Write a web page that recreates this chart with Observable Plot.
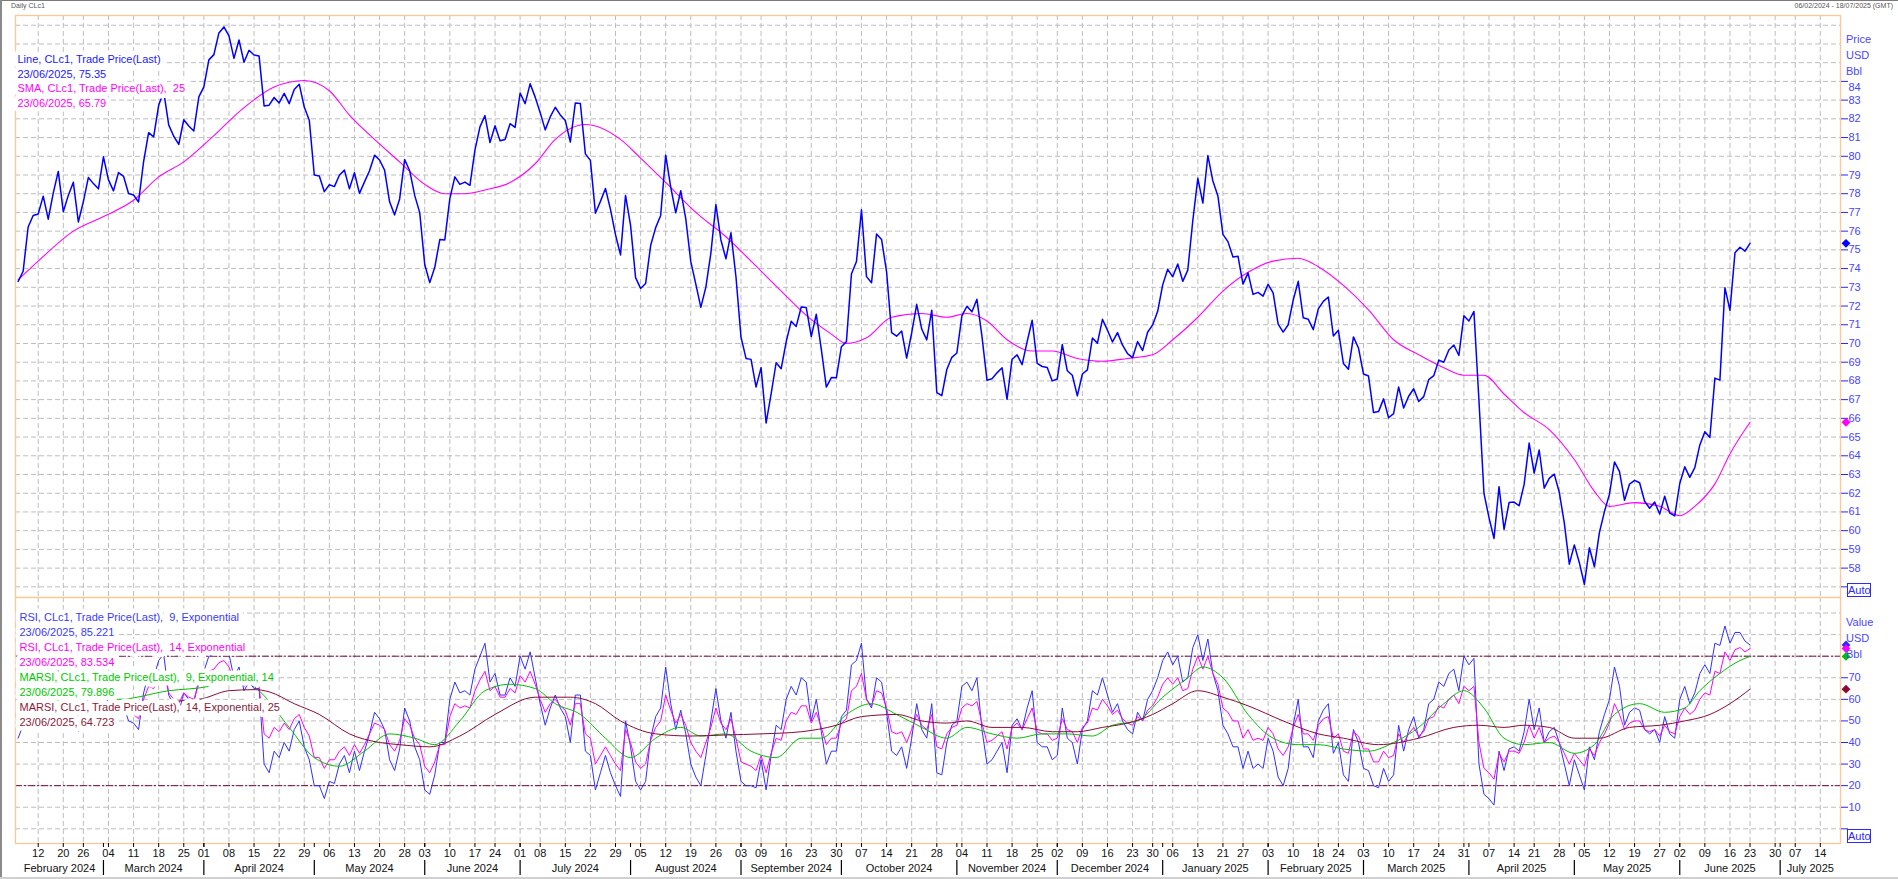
<!DOCTYPE html>
<html><head><meta charset="utf-8">
<script src="https://cdn.jsdelivr.net/npm/d3@7"></script>
<script src="https://cdn.jsdelivr.net/npm/@observablehq/plot@0.6"></script>
<style>
html,body{margin:0;padding:0;background:#fff;}
#wrap{position:relative;width:1898px;height:879px;overflow:hidden;font-family:"Liberation Sans",Arial,sans-serif;}
#wrap svg{position:absolute;left:0;overflow:visible;}
.lbl{position:absolute;font-size:11px;color:#4848ff;white-space:nowrap;line-height:13px;}
.auto{position:absolute;font-size:11px;color:#2a2aff;border:1px solid #2a2aff;width:22px;height:12px;line-height:12px;text-align:center;}
.hdr{position:absolute;font-size:7px;color:#555;white-space:nowrap;}
</style></head><body>
<div id="wrap"></div>
<script>
// ---------- calendar (trading days) ----------
const startDate = "2024-02-06", endDate = "2025-07-18";
const holidays = ["2024-02-19","2024-03-29","2024-05-27","2024-06-19","2024-07-04","2024-09-02","2024-11-28","2024-12-25",
  "2025-01-01","2025-01-20","2025-02-17","2025-04-18","2025-05-26","2025-06-19","2025-07-04"];

// ---------- CLc1 close, one value per trading day from 06/02/2024 to 23/06/2025 ----------
const price = [
 73.31,73.86,76.22,76.84,
 76.92,77.87,76.64,78.03,79.19,
 77.04,77.91,78.61,76.49,
 77.58,78.87,78.54,78.26,79.97,
 78.74,78.15,79.13,78.93,78.01,
 77.93,77.56,79.72,81.26,81.04,
 82.72,83.47,81.68,81.07,80.63,
 81.95,81.62,81.35,83.17,
 83.71,85.15,85.43,86.59,86.91,
 86.43,85.23,86.21,85.02,85.66,
 85.41,85.36,82.69,82.73,83.14,
 82.85,83.36,82.81,83.57,83.85,
 82.63,81.93,79.00,78.95,78.11,
 78.48,78.38,78.99,79.26,78.26,
 79.12,78.02,78.63,79.23,80.06,
 79.80,79.26,77.57,76.87,77.72,
 79.83,79.23,77.91,76.99,
 74.22,73.25,74.07,75.55,75.53,
 77.74,78.90,78.50,78.62,78.45,
 80.33,81.57,82.17,80.73,
 81.63,80.83,80.90,81.74,81.54,
 83.38,82.81,83.88,83.16,
 82.33,81.41,82.10,82.62,82.21,
 81.91,80.76,82.85,82.82,80.13,
 79.78,76.96,77.59,78.28,77.16,
 75.81,74.73,77.91,76.31,73.52,
 72.94,73.20,75.23,76.19,76.84,
 80.06,78.35,76.98,78.16,76.65,
 74.37,73.17,71.93,73.01,74.83,
 77.42,75.53,74.52,75.91,73.55,
 70.34,69.20,69.15,67.67,
 68.71,65.75,67.31,68.97,68.65,
 70.09,71.19,70.91,71.95,71.92,
 70.37,71.56,69.69,67.67,68.18,
 68.17,69.83,70.10,73.71,74.38,
 77.14,73.57,73.24,75.85,75.56,
 73.83,70.58,70.39,70.67,69.22,
 70.56,72.09,70.77,70.19,71.78,
 67.38,67.21,68.61,69.26,69.49,
 71.47,71.99,71.69,72.36,70.38,
 68.04,68.12,68.43,68.70,67.02,
 69.16,69.39,68.87,70.10,71.24,
 68.94,68.77,68.72,68.00,
 68.10,69.94,68.54,68.30,67.20,
 68.37,68.59,70.29,70.02,71.29,
 70.71,70.08,70.58,69.91,69.46,
 69.24,70.10,69.62,70.60,
 70.99,71.72,73.13,73.96,
 73.56,74.25,73.32,73.92,76.57,
 78.82,77.50,80.04,78.68,77.88,
 75.83,75.44,74.62,74.66,
 73.17,73.77,72.62,72.73,72.53,
 73.16,72.70,71.03,70.61,71.00,
 72.32,73.32,71.37,71.29,70.74,
 71.85,72.25,72.48,70.40,
 70.70,68.93,68.62,70.35,69.76,
 68.37,68.26,66.31,66.36,67.04,
 66.03,66.25,67.68,66.55,67.18,
 67.58,66.90,67.16,68.07,68.28,
 69.11,69.00,69.65,69.92,69.36,
 71.48,71.20,71.71,66.95,61.99,
 60.70,59.58,62.35,60.07,61.50,
 61.53,61.33,62.47,64.68,
 63.08,64.31,62.27,62.79,63.02,
 62.05,60.42,58.21,59.24,58.29,
 57.13,59.09,58.07,59.91,61.02,
 61.95,63.67,63.15,61.62,62.49,
 62.69,62.56,61.57,61.20,61.53,
 60.89,61.84,60.94,60.79,
 62.52,63.41,62.85,63.37,64.58,
 65.29,64.98,68.15,68.04,72.98,
 71.77,74.84,75.14,74.93,
 75.35
];

// ---------- SMA 25 (read at points along the curve: trading-day index, value) ----------
const smaDay = [0,4,11,18,23,28,33,39,45,51,57,62,66,71,76,81,85,89,93,98,103,107,113,120,124,129,135,141,146,152,157,162,165,169,174,180,185,189,193,197,202,206,211,216,221,226,230,235,240,245,250,255,259,264,269,274,279,284,288,292,296,300,305,310,314,317,322,327,331,334,338,341,345];
const smaVal = [73.4,74.4,76.0,76.9,77.65,78.9,79.7,81.1,82.6,83.7,84.05,83.5,82.2,80.9,79.7,78.5,78.0,78.0,78.2,78.6,79.6,80.9,81.7,80.9,79.9,78.6,77.0,75.7,74.4,72.8,71.5,70.5,70.0,70.3,71.4,71.6,71.4,71.6,71.2,70.2,69.6,69.6,69.2,69.05,69.2,69.4,70.2,71.4,72.8,73.8,74.4,74.55,74.1,73.1,71.8,70.2,69.4,68.7,68.3,68.3,67.3,66.3,65.4,63.8,62.1,61.3,61.5,61.3,60.8,61.3,62.5,64.1,65.79];

// ---------- RSI 9 and RSI 14, one value per trading day ----------
const rsi9 = [
 42,48,66,70,70,75,60,68,75,52, 58,63,45,53,61,58,56,68,57,53,
 59,57,50,49,46,63,72,70,78,81, 62,57,54,63,60,58,70,73,80,81,
 85,87,81,70,75,64,68,65,65,30, 26,36,33,40,36,46,50,38,32,20,
 20,14,22,21,30,34,26,36,27,36, 44,54,51,46,32,27,37,56,50,38,
 32,18,16,25,40,40,60,68,63,64, 62,74,80,86,68,72,62,62,70,66,
 80,74,82,70,58,48,56,62,56,52, 40,62,62,36,34,18,26,34,26,20,
 15,50,38,22,18,22,42,52,56,75, 58,46,55,44,30,24,20,34,50,65,
 50,42,54,36,22,20,20,19,32,18, 34,48,46,60,66,62,70,68,50,60,
 45,30,36,36,52,55,76,78,86,60, 56,70,68,54,36,34,38,28,42,58,
 46,42,58,26,25,40,48,50,66,68, 64,70,46,30,32,36,40,26,48,51,
 46,56,64,40,38,38,32,34,56,42, 40,30,46,50,64,62,70,62,54,58,
 50,46,44,54,50,60,64,70,78,82, 76,80,68,70,84,90,78,88,72,64,
 48,44,38,38,28,36,28,30,28,42, 36,24,20,28,48,60,38,38,33,50,
 55,58,35,40,25,22,46,40,28,27, 20,19,28,22,25,48,36,46,52,42,
 46,58,60,68,66,72,74,64,80,76, 79,30,16,14,11,36,27,37,38,36,
 45,60,46,56,40,45,47,40,30,20, 32,25,18,38,32,45,53,60,75,66,
 48,54,56,55,46,44,46,40,52,44, 42,60,66,58,63,72,76,72,86,85,
 94,86,91,91,87,85.221
];
const rsi14 = [
 47,50,60,63,63,66,59,63,68,56, 59,61,51,55,59,58,57,63,58,55,
 58,57,54,53,51,60,66,65,70,73, 63,60,58,63,61,60,67,69,73,74,
 77,78,75,69,72,66,68,66,66,44, 42,47,45,49,46,51,53,47,43,33,
 33,28,32,32,36,38,34,39,35,39, 44,49,48,46,39,36,41,51,48,42,
 39,29,26,31,39,39,52,58,56,57, 56,64,69,73,64,66,61,61,65,63,
 71,68,73,67,60,54,58,60,57,55, 48,58,58,44,42,30,34,38,34,30,
 27,46,40,31,28,30,41,47,50,62, 55,49,53,48,40,36,33,40,47,56,
 49,46,51,42,31,30,29,27,34,26, 35,42,41,50,54,53,57,57,49,54,
 47,39,42,42,49,51,64,66,72,60, 57,64,63,56,45,44,45,40,46,53,
 48,46,53,38,37,44,47,48,56,58, 57,59,49,40,41,43,45,37,47,49,
 46,51,56,45,44,44,41,42,51,46, 45,40,47,49,56,55,60,57,53,55,
 51,49,48,52,50,55,57,61,67,70, 67,70,64,65,74,80,74,80,72,67,
 56,54,50,50,42,46,41,42,41,47, 44,37,34,38,47,53,44,44,41,48,
 51,52,42,44,36,35,45,43,37,37, 31,31,36,33,34,44,40,44,47,43,
 45,51,52,57,56,60,62,58,66,64, 66,40,28,26,23,35,31,36,36,35,
 40,48,42,47,40,42,43,40,35,30, 35,32,29,37,34,40,44,49,58,53,
 46,49,50,50,46,45,46,43,48,45, 44,52,56,53,55,60,63,62,73,72,
 82,78,83,84,82,83.534
];

// ---------- MARSI (read at points along the curves: trading-day index, value) ----------
const marsi9Day = [0,10,20,30,38,44,48,54,59,64,69,74,79,83,88,93,98,103,107,112,117,122,127,132,136,141,146,151,156,160,165,170,175,180,185,189,194,199,204,209,214,218,223,228,233,236,240,245,250,255,259,264,269,274,279,284,288,292,296,300,305,310,314,318,323,328,332,335,339,343,345];
const marsi9Val = [52,60,60,64,66,70,64,47,33,29,36,44,42,39,50,64,67,65,58,53,42,33,42,47,43,44,36,33,42,42,53,58,53,47,42,47,44,42,44,44,43,48,50,61,70,75,70,53,42,39,39,37,36,40,47,58,64,56,42,39,40,35,39,53,58,54,56,64,72,78,79.896];
const marsi14Day = [0,20,36,42,47,50,55,60,66,72,76,82,88,95,103,110,115,120,127,134,141,148,156,163,168,175,180,185,189,194,200,206,211,216,221,226,230,235,240,245,252,259,264,271,279,286,291,296,300,305,310,315,321,327,332,337,341,345];
const marsi14Val = [55,58,60,64,64.5,63.5,58,53,44,40,39,38,43,53,61,61,58,50,44,43,43.5,44,45,48,52,53,50,49,50,47,47,45,45,47,49,53,58,64,61,57,50,44,42,39,42,47,48,47,48,47,42,42,47,48,50,53,58,64.723];

// ---------- texts ----------
const legendTop = [
  {t:"Line, CLc1, Trade Price(Last)", c:"#1a1aff"},
  {t:"23/06/2025, 75.35", c:"#1a1aff"},
  {t:"SMA, CLc1, Trade Price(Last),  25", c:"#ff00ff"},
  {t:"23/06/2025, 65.79", c:"#ff00ff"}
];
const legendBottom = [
  {t:"RSI, CLc1, Trade Price(Last),  9, Exponential", c:"#3a3aff"},
  {t:"23/06/2025, 85.221", c:"#3a3aff"},
  {t:"RSI, CLc1, Trade Price(Last),  14, Exponential", c:"#ff00ff"},
  {t:"23/06/2025, 83.534", c:"#ff00ff"},
  {t:"MARSI, CLc1, Trade Price(Last),  9, Exponential, 14", c:"#00c800"},
  {t:"23/06/2025, 79.896", c:"#00c800"},
  {t:"MARSI, CLc1, Trade Price(Last),  14, Exponential, 25", c:"#8b1a3a"},
  {t:"23/06/2025, 64.723", c:"#8b1a3a"}
];

(function () {
// ---------- build ----------
const hol = new Set(holidays);
const days = [];
for (let d = new Date(startDate + "T00:00:00Z"); d <= new Date(endDate + "T00:00:00Z"); d.setUTCDate(d.getUTCDate() + 1)) {
  const w = d.getUTCDay(), s = d.toISOString().slice(0, 10);
  if (w === 0 || w === 6 || hol.has(s)) continue;
  days.push(new Date(d));
}
const weekKey = d => { const m = new Date(d); m.setUTCDate(m.getUTCDate() - ((m.getUTCDay() + 6) % 7)); return +m; };
const weekTicks = [], monthStarts = [];
for (let i = 1; i < days.length; i++) {
  if (weekKey(days[i]) !== weekKey(days[i - 1])) weekTicks.push(i);
  if (days[i].getUTCMonth() !== days[i - 1].getUTCMonth()) monthStarts.push(i);
}
const xLo = -0.52, xHi = days.length - 1 + 0.02;
const bounds = [xLo, ...monthStarts, xHi];
const monthLabels = [];
for (let k = 0; k < bounds.length - 1; k++) {
  const i0 = k === 0 ? 0 : bounds[k];
  monthLabels.push({x: (bounds[k] + bounds[k + 1]) / 2, t: d3.utcFormat("%B %Y")(days[i0])});
}
const pxPerDay = 1825 / (xHi - xLo);
const diamondX = xHi + 5.5 / pxPerDay;

const priceData = price.map((v, i) => ({i, v}));
const smaData = smaDay.map((d, k) => ({i: d, v: smaVal[k]}));
const r9 = rsi9.map((v, i) => ({i, v}));
const r14 = rsi14.map((v, i) => ({i, v}));
const m9 = marsi9Day.map((d, k) => ({i: d, v: marsi9Val[k]}));
const m14 = marsi14Day.map((d, k) => ({i: d, v: marsi14Val[k]}));

const gridC = "#bdbdbd", gridDash = "5,3", frameC = "#fdc894";
const font = {fontFamily: "'Liberation Sans', Arial, sans-serif", fontSize: "11px", background: "transparent", overflow: "visible"};
const legendMarks = (rows, dx, dy0, step) => rows.map((r, k) =>
  Plot.text([r], {frameAnchor: "top-left", text: "t", fill: "c", dx, dy: dy0 + k * step, textAnchor: "start", lineAnchor: "middle", fontSize: 11,
    stroke: "white", strokeWidth: 9, strokeLinejoin: "round", paintOrder: "stroke"}));

const chartTop = Plot.plot({
  width: 1898, height: 597, marginTop: 15, marginLeft: 15, marginRight: 58, marginBottom: 0,
  style: font,
  x: {domain: [xLo, xHi], axis: null},
  y: {domain: [56.43, 87.52], axis: null},
  marks: [
    Plot.ruleY(d3.range(57, 88), {stroke: gridC, strokeDasharray: gridDash}),
    Plot.ruleX(weekTicks, {stroke: gridC, strokeDasharray: gridDash}),
    Plot.line(smaData, {x: "i", y: "v", stroke: "#ff00ff", strokeWidth: 1.1, curve: "monotone-x"}),
    Plot.line(priceData, {x: "i", y: "v", stroke: "#0000ff", strokeWidth: 1.5}),
    Plot.frame({stroke: frameC, strokeWidth: 1.3}),
    Plot.axisY({anchor: "right", ticks: d3.range(57, 85), tickFormat: d => (d === 57 || d === 84) ? "" : d, tickSize: 7, tickPadding: 1,
      stroke: "#2525ff", fill: "#4646ff", fontSize: 11, label: null}),
    Plot.axisY({anchor: "right", ticks: [84], tickFormat: d => d, tickSize: 0, tickPadding: 8, dy: 6,
      stroke: "#2525ff", fill: "#4646ff", fontSize: 11, label: null}),
    Plot.dot([{i: diamondX, v: price[price.length - 1], c: "#0000ff"}, {i: diamondX, v: smaVal[smaVal.length - 1], c: "#ff00ff"}],
      {x: "i", y: "v", fill: "c", symbol: "diamond2", r: 4, stroke: null}),
    ...legendMarks(legendTop, 2, 44, 14.7)
  ]
});
chartTop.style.top = "0px";

const chartBot = Plot.plot({
  width: 1898, height: 282, marginTop: 0, marginLeft: 15, marginRight: 58, marginBottom: 36,
  style: font,
  x: {domain: [xLo, xHi], axis: null},
  y: {domain: [-6.8, 107.2], axis: null},
  marks: [
    Plot.ruleY(d3.range(0, 110, 10), {stroke: gridC, strokeDasharray: gridDash}),
    Plot.ruleX(weekTicks, {stroke: gridC, strokeDasharray: gridDash}),
    Plot.ruleY([80, 20], {stroke: "#7a0a3a", strokeDasharray: "7,2,2,2", strokeWidth: 1}),
    Plot.line(r9, {x: "i", y: "v", stroke: "#3030ff", strokeWidth: 1}),
    Plot.line(r14, {x: "i", y: "v", stroke: "#ff00ff", strokeWidth: 1}),
    Plot.line(m9, {x: "i", y: "v", stroke: "#00c000", strokeWidth: 1, curve: "monotone-x"}),
    Plot.line(m14, {x: "i", y: "v", stroke: "#8b0a33", strokeWidth: 1, curve: "monotone-x"}),
    Plot.frame({stroke: frameC, strokeWidth: 1.3}),
    Plot.axisY({anchor: "right", ticks: d3.range(0, 80, 10), tickFormat: d => d === 0 ? "" : d, tickSize: 7, tickPadding: 1,
      stroke: "#2525ff", fill: "#4646ff", fontSize: 11, label: null}),
    Plot.axisX({anchor: "bottom", ticks: weekTicks, tickFormat: i => d3.utcFormat("%d")(days[i]), tickSize: 4, tickPadding: 2,
      stroke: "#000", fill: "#111", fontSize: 11, label: null}),
    Plot.ruleX(monthStarts, {stroke: "#000", insetTop: 242, dy: 4}),
    Plot.ruleX(monthStarts, {stroke: "#000", insetTop: 231, dy: 32, strokeWidth: 1.2}),
    Plot.text(monthLabels, {x: "x", text: "t", frameAnchor: "bottom", dy: 25, fill: "#111", fontSize: 11, lineAnchor: "middle"}),
    Plot.dot([
      {i: diamondX, v: rsi9[rsi9.length - 1], c: "#2a2aff"},
      {i: diamondX, v: rsi14[rsi14.length - 1], c: "#ff00ff"},
      {i: diamondX, v: marsi9Val[marsi9Val.length - 1], c: "#00c000"},
      {i: diamondX, v: marsi14Val[marsi14Val.length - 1], c: "#8b0a33"}],
      {x: "i", y: "v", fill: "c", symbol: "diamond2", r: 4, stroke: null}),
    ...legendMarks(legendBottom, 4, 20, 15)
  ]
});
chartBot.style.top = "597px";

const wrap = document.getElementById("wrap");
wrap.append(chartTop, chartBot);
const add = (cls, text, css) => { const e = document.createElement("div"); e.className = cls; e.textContent = text; Object.assign(e.style, css); wrap.append(e); };
add("hdr", "Daily CLc1", {left: "11px", top: "2px"});
add("hdr", "06/02/2024 - 18/07/2025 (GMT)", {right: "5px", top: "2px"});
add("lbl", "Price", {left: "1846px", top: "33px"});
add("lbl", "USD", {left: "1846px", top: "49px"});
add("lbl", "Bbl", {left: "1846px", top: "65px"});
add("lbl", "Value", {left: "1846px", top: "616px"});
add("lbl", "USD", {left: "1846px", top: "632px"});
add("lbl", "Bbl", {left: "1846px", top: "648px"});
add("auto", "Auto", {left: "1847px", top: "583px"});
add("auto", "Auto", {left: "1847px", top: "829px"});
[["0px","0px","1898px","1px","#7a7a7a"],["0px","0px","2px","879px","#8a8a8a"],["0px","877px","1898px","2px","#d0d0d0"]].forEach(([l,t,w,h,c]) => {
  const e = document.createElement("div"); Object.assign(e.style, {position:"absolute", left:l, top:t, width:w, height:h, background:c}); wrap.append(e);
});
})();
</script>
</body></html>
